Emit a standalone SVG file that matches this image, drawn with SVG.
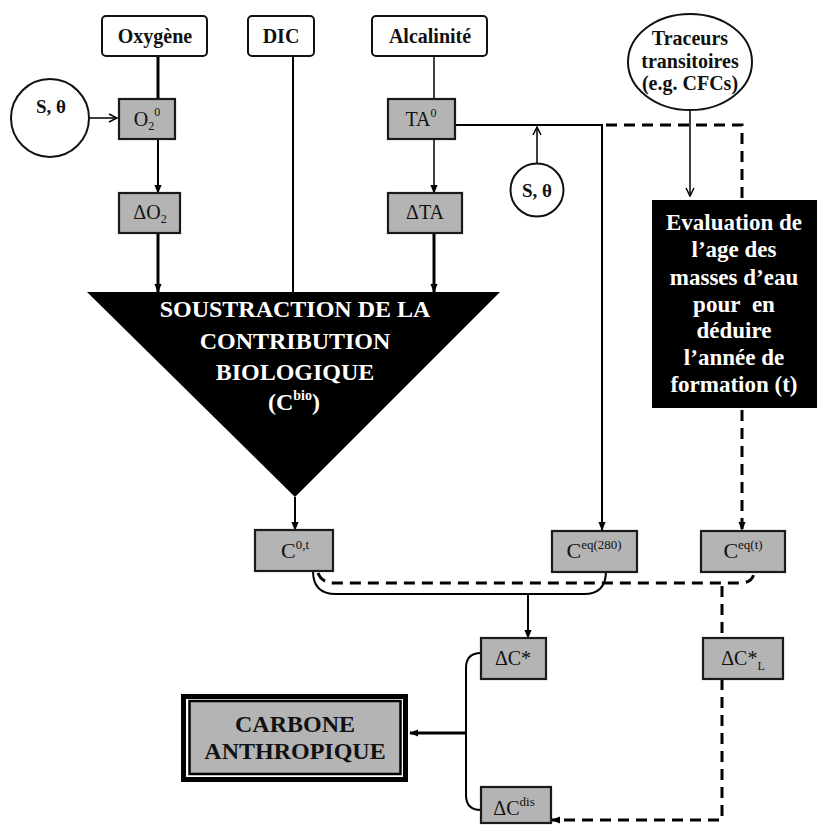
<svg xmlns="http://www.w3.org/2000/svg" width="817" height="825" viewBox="0 0 817 825">
<defs>
<marker id="af" viewBox="0 0 10 10" refX="9" refY="5" markerWidth="9" markerHeight="9" markerUnits="userSpaceOnUse" orient="auto"><path d="M0,1 L10,5 L0,9 z" fill="#000"/></marker>
<marker id="ao" viewBox="0 0 10 10" refX="9" refY="5" markerWidth="10" markerHeight="10" markerUnits="userSpaceOnUse" orient="auto"><path d="M1,1 L9,5 L1,9" fill="none" stroke="#000" stroke-width="1.5"/></marker>
</defs>
<style>
.lbl{fill:#fff;stroke:#111;stroke-width:2}
.g{fill:#b4b4b4;stroke:#1a1a1a;stroke-width:2.2}
.t{font-family:"Liberation Serif","Times New Roman",serif;fill:#111;text-anchor:middle}
.b{font-weight:bold}
.w{fill:#fff}
.ln{fill:none;stroke:#000;stroke-width:2}
.thk{stroke-width:3}
.thn{stroke-width:1.5}
.ds{fill:none;stroke:#000;stroke-width:3;stroke-dasharray:11 7}
</style>
<rect width="817" height="825" fill="#fff"/>

<g id="connectors">
<path class="ln thk" d="M158,56 V99"/>
<path class="ln" d="M158,139 V193" marker-end="url(#af)"/>
<path class="ln thk" d="M158,233 V292" marker-end="url(#af)"/>
<path class="ln" d="M293,56 V292"/>
<path class="ln thn" d="M434,56 V99"/>
<path class="ln thn" d="M434,139 V193" marker-end="url(#af)"/>
<path class="ln thk" d="M434,233 V292" marker-end="url(#af)"/>
<path class="ln thn" d="M89,118 H117" marker-end="url(#ao)"/>
<path class="ln thn" d="M537,163 V127" marker-end="url(#ao)"/>
<path class="ln thn" d="M690,110 V196" marker-end="url(#ao)"/>
<path class="ln" d="M455,125 H602 V530" marker-end="url(#af)"/>
<path class="ds" d="M606,125 H742 V200"/>
<path class="ds" d="M742,410 V530" marker-end="url(#af)"/>
<path class="ln" d="M295,497 V530" marker-end="url(#af)"/>
<path class="ln" d="M313,571 Q313,594 336,594 H584 Q606,594 606,571"/>
<path class="ds" d="M318,573 Q322,583 334,583 H740 Q754,583 754,571"/>
<path class="ln" d="M528,594 V638" marker-end="url(#af)"/>
<path class="ds" d="M722,586 V638"/>
<path class="ds" d="M722,679 V820 H552" marker-end="url(#af)"/>
<path class="ln" d="M481,653 Q466,653 466,668 V795 Q466,810 481,810"/>
<path class="ln thk" d="M466,733 H410" marker-end="url(#af)"/>
</g>

<g id="oxygene"><rect class="lbl" x="102" y="16" width="105" height="40" rx="4"/><text class="t b" x="155" y="43" font-size="20">Oxygène</text></g>
<g id="dic"><rect class="lbl" x="248" y="16" width="66" height="40" rx="4"/><text class="t b" x="281" y="43" font-size="20">DIC</text></g>
<g id="alcalinite"><rect class="lbl" x="372" y="16" width="115" height="40" rx="4"/><text class="t b" x="430" y="43" font-size="20">Alcalinité</text></g>

<g id="s-theta-1"><circle cx="50" cy="118" r="39" fill="#fff" stroke="#111" stroke-width="2"/><text class="t b" x="51" y="113" font-size="19">S, θ</text></g>
<g id="s-theta-2"><circle cx="537" cy="190" r="26.5" fill="#fff" stroke="#111" stroke-width="2"/><text class="t b" x="537" y="197" font-size="19">S, θ</text></g>
<g id="traceurs"><ellipse cx="690" cy="62" rx="62" ry="48" fill="#fff" stroke="#111" stroke-width="2"/><text class="t b" font-size="20"><tspan x="690" y="45">Traceurs</tspan><tspan x="690" y="68">transitoires</tspan><tspan x="690" y="90">(e.g. CFCs)</tspan></text></g>

<g id="o2-0"><rect class="g" x="119" y="99" width="56" height="40"/><text class="t" x="147" y="126" font-size="20">O<tspan font-size="12" dy="4">2</tspan><tspan font-size="12" dy="-14">0</tspan></text></g>
<g id="delta-o2"><rect class="g" x="119" y="193" width="61" height="40"/><text class="t" x="150" y="219" font-size="20">ΔO<tspan font-size="12" dy="4">2</tspan></text></g>
<g id="ta-0"><rect class="g" x="388" y="99" width="67" height="40"/><text class="t" x="421" y="126" font-size="20">TA<tspan font-size="12" dy="-9">0</tspan></text></g>
<g id="delta-ta"><rect class="g" x="388" y="193" width="74" height="40"/><text class="t" x="425" y="219" font-size="20">ΔTA</text></g>

<g id="soustraction"><polygon points="87,292 500,292 295,497" fill="#000"/>
<text class="t b w" font-size="24"><tspan x="295" y="317">SOUSTRACTION DE LA</tspan><tspan x="295" y="349">CONTRIBUTION</tspan><tspan x="295" y="380">BIOLOGIQUE</tspan></text>
<text class="t b w" x="294" y="410" font-size="24">(C<tspan font-size="14" dy="-10">bio</tspan><tspan dy="10">)</tspan></text></g>

<g id="evaluation"><rect x="652" y="200" width="165" height="208" fill="#000"/>
<text class="t b w" font-size="23"><tspan x="734" y="230">Evaluation de</tspan><tspan x="734" y="257">l’age des</tspan><tspan x="734" y="285">masses d’eau</tspan><tspan x="734" y="312">pour&#160; en</tspan><tspan x="734" y="338">déduire</tspan><tspan x="734" y="365">l’année de</tspan><tspan x="734" y="392">formation (t)</tspan></text></g>

<g id="c-0t"><rect class="g" x="255" y="530" width="78" height="41"/><text class="t" x="295" y="558" font-size="22">C<tspan font-size="13" dy="-9">0,t</tspan></text></g>
<g id="c-eq280"><rect class="g" x="552" y="531" width="85" height="41"/><text class="t" x="594" y="558" font-size="22">C<tspan font-size="13" dy="-9">eq(280)</tspan></text></g>
<g id="c-eqt"><rect class="g" x="701" y="531" width="84" height="41"/><text class="t" x="743" y="558" font-size="22">C<tspan font-size="13" dy="-9">eq(t)</tspan></text></g>

<g id="delta-c-star"><rect class="g" x="481" y="638" width="65" height="41"/><text class="t" x="513" y="665" font-size="20">ΔC*</text></g>
<g id="delta-c-star-l"><rect class="g" x="703" y="638" width="80" height="41"/><text class="t" x="743" y="665" font-size="20">ΔC*<tspan font-size="12" dy="5">L</tspan></text></g>
<g id="delta-c-dis"><rect class="g" x="481" y="787" width="70" height="36"/><text class="t" x="514" y="815" font-size="20">ΔC<tspan font-size="13" dy="-9">dis</tspan></text></g>

<g id="carbone"><rect x="183.5" y="696.5" width="222" height="83" fill="#fff" stroke="#000" stroke-width="5"/><rect x="189.5" y="701" width="211" height="73" fill="#b4b4b4" stroke="#000" stroke-width="2.5"/>
<text class="t b" font-size="24"><tspan x="295" y="732">CARBONE</tspan><tspan x="295" y="759">ANTHROPIQUE</tspan></text></g>
</svg>
